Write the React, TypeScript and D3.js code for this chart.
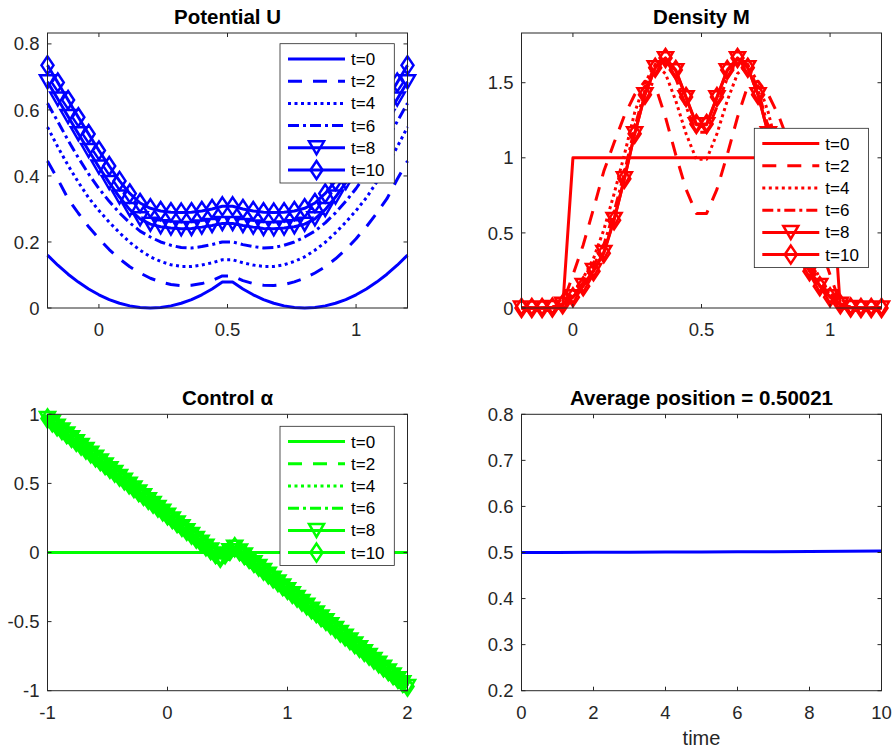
import React from 'react';
import * as d3 from 'd3';

// ---- data ----
const X_GRID = [-0.2, -0.16, -0.12, -0.08, -0.04, 0, 0.04, 0.08, 0.12, 0.16, 0.2, 0.24, 0.28, 0.32, 0.36, 0.4, 0.44, 0.48,
  0.52, 0.56, 0.6, 0.64, 0.68, 0.72, 0.76, 0.8, 0.84, 0.88, 0.92, 0.96, 1, 1.04, 1.08, 1.12, 1.16, 1.2];

const U_T0 = [0.16, 0.1296, 0.1024, 0.0784, 0.0576, 0.04, 0.0256, 0.0144, 0.0064, 0.0016, 0, 0.0016, 0.0064, 0.0144, 0.0256, 0.04, 0.0576, 0.0784,
  0.0784, 0.0576, 0.04, 0.0256, 0.0144, 0.0064, 0.0016, 0, 0.0016, 0.0064, 0.0144, 0.0256, 0.04, 0.0576, 0.0784, 0.1024, 0.1296, 0.16];
const U_T2 = [0.445, 0.39, 0.331, 0.287, 0.246, 0.21, 0.177, 0.149, 0.125, 0.106, 0.09, 0.079, 0.071, 0.068, 0.069, 0.074, 0.083, 0.097,
  0.097, 0.083, 0.074, 0.069, 0.068, 0.071, 0.079, 0.09, 0.106, 0.125, 0.149, 0.177, 0.21, 0.246, 0.287, 0.331, 0.39, 0.445];
const U_T4 = [0.548, 0.488, 0.432, 0.381, 0.334, 0.295, 0.26, 0.228, 0.199, 0.175, 0.155, 0.141, 0.131, 0.126, 0.126, 0.13, 0.137, 0.146,
  0.146, 0.137, 0.13, 0.126, 0.126, 0.131, 0.141, 0.155, 0.175, 0.199, 0.228, 0.26, 0.295, 0.334, 0.381, 0.432, 0.488, 0.548];
const U_T6 = [0.62, 0.565, 0.508, 0.455, 0.406, 0.362, 0.323, 0.288, 0.258, 0.233, 0.215, 0.2, 0.19, 0.183, 0.182, 0.186, 0.192, 0.2,
  0.2, 0.192, 0.186, 0.182, 0.183, 0.19, 0.2, 0.215, 0.233, 0.258, 0.288, 0.323, 0.362, 0.406, 0.455, 0.508, 0.565, 0.62];
const U_T8 = [0.685, 0.633, 0.58, 0.528, 0.477, 0.427, 0.38, 0.336, 0.298, 0.27, 0.254, 0.246, 0.242, 0.24, 0.241, 0.245, 0.25, 0.256,
  0.256, 0.25, 0.245, 0.241, 0.24, 0.242, 0.246, 0.254, 0.27, 0.298, 0.336, 0.38, 0.427, 0.477, 0.528, 0.58, 0.633, 0.685];
const U_T10 = [0.735, 0.683, 0.63, 0.578, 0.527, 0.477, 0.43, 0.385, 0.347, 0.318, 0.302, 0.294, 0.29, 0.289, 0.29, 0.294, 0.3, 0.308,
  0.308, 0.3, 0.294, 0.29, 0.289, 0.29, 0.294, 0.302, 0.318, 0.347, 0.385, 0.43, 0.477, 0.527, 0.578, 0.63, 0.683, 0.735];

const M_T0 = [0, 0, 0, 0, 0, 1, 1, 1, 1, 1, 1, 1, 1, 1, 1, 1, 1, 1,
  1, 1, 1, 1, 1, 1, 1, 1, 1, 1, 1, 1, 1, 0, 0, 0, 0, 0];
const M_T2 = [0, 0, 0, 0.005, 0.03, 0.22, 0.42, 0.66, 0.91, 1.1, 1.28, 1.42, 1.51, 1.48, 1.27, 1.02, 0.79, 0.63,
  0.63, 0.79, 1.02, 1.27, 1.48, 1.51, 1.42, 1.28, 1.1, 0.91, 0.66, 0.42, 0.22, 0.03, 0.005, 0, 0, 0];
const M_T4 = [0, 0, 0, 0.003, 0.02, 0.1, 0.2, 0.33, 0.52, 0.76, 1.02, 1.3, 1.5, 1.62, 1.56, 1.38, 1.16, 0.99,
  0.99, 1.16, 1.38, 1.56, 1.62, 1.5, 1.3, 1.02, 0.76, 0.52, 0.33, 0.2, 0.1, 0.02, 0.003, 0, 0, 0];
const M_T6 = [0, 0, 0, 0.004, 0.025, 0.085, 0.17, 0.28, 0.42, 0.64, 0.9, 1.2, 1.45, 1.62, 1.65, 1.53, 1.34, 1.17,
  1.17, 1.34, 1.53, 1.65, 1.62, 1.45, 1.2, 0.9, 0.64, 0.42, 0.28, 0.17, 0.085, 0.025, 0.004, 0, 0, 0];
const M_T8 = [0, 0, 0, 0.004, 0.025, 0.075, 0.15, 0.25, 0.37, 0.59, 0.86, 1.16, 1.42, 1.6, 1.66, 1.58, 1.4, 1.22,
  1.22, 1.4, 1.58, 1.66, 1.6, 1.42, 1.16, 0.86, 0.59, 0.37, 0.25, 0.15, 0.075, 0.025, 0.004, 0, 0, 0];
const M_T10 = [0, 0, 0, 0.004, 0.025, 0.072, 0.145, 0.245, 0.365, 0.585, 0.86, 1.16, 1.42, 1.6, 1.665, 1.585, 1.405, 1.225,
  1.225, 1.405, 1.585, 1.665, 1.6, 1.42, 1.16, 0.86, 0.585, 0.365, 0.245, 0.145, 0.072, 0.025, 0.004, 0, 0, 0];

const A_GRID = [-1, -0.96, -0.92, -0.88, -0.84, -0.8, -0.76, -0.72, -0.68, -0.64, -0.6, -0.56, -0.52, -0.48, -0.44, -0.4, -0.36, -0.32, -0.28,
  -0.24, -0.2, -0.16, -0.12, -0.08, -0.04, 0, 0.04, 0.08, 0.12, 0.16, 0.2, 0.24, 0.28, 0.32, 0.36, 0.4, 0.44, 0.48,
  0.52, 0.56, 0.6, 0.64, 0.68, 0.72, 0.76, 0.8, 0.84, 0.88, 0.92, 0.96, 1, 1.04, 1.08, 1.12, 1.16, 1.2, 1.24,
  1.28, 1.32, 1.36, 1.4, 1.44, 1.48, 1.52, 1.56, 1.6, 1.64, 1.68, 1.72, 1.76, 1.8, 1.84, 1.88, 1.92, 1.96, 2];
const A_T0 = [0, 0, 0, 0, 0, 0, 0, 0, 0, 0, 0, 0, 0, 0, 0, 0, 0, 0, 0,
  0, 0, 0, 0, 0, 0, 0, 0, 0, 0, 0, 0, 0, 0, 0, 0, 0, 0, 0,
  0, 0, 0, 0, 0, 0, 0, 0, 0, 0, 0, 0, 0, 0, 0, 0, 0, 0, 0,
  0, 0, 0, 0, 0, 0, 0, 0, 0, 0, 0, 0, 0, 0, 0, 0, 0, 0, 0];
// t=2..10 lie on top of each other
const A_LATE = [0.97, 0.942, 0.914, 0.886, 0.858, 0.83, 0.802, 0.774, 0.746, 0.718, 0.69, 0.662, 0.634, 0.606, 0.578, 0.55, 0.522, 0.494, 0.466,
  0.438, 0.41, 0.382, 0.354, 0.326, 0.298, 0.27, 0.242, 0.214, 0.186, 0.158, 0.13, 0.102, 0.074, 0.046, 0.018, -0.01, -0.038, -0.013,
  0.013, 0.038, 0.01, -0.018, -0.046, -0.074, -0.102, -0.13, -0.158, -0.186, -0.214, -0.242, -0.27, -0.298, -0.326, -0.354, -0.382, -0.41, -0.438,
  -0.466, -0.494, -0.522, -0.55, -0.578, -0.606, -0.634, -0.662, -0.69, -0.718, -0.746, -0.774, -0.802, -0.83, -0.858, -0.886, -0.914, -0.942, -0.97];

const TIME = [0, 1, 2, 3, 4, 5, 6, 7, 8, 9, 10];
const AVG_POS = [0.5, 0.5002, 0.5004, 0.5006, 0.5009, 0.5012, 0.5015, 0.5019, 0.5023, 0.5027, 0.5032];

const LEGEND_LABELS = ['t=0', 't=2', 't=4', 't=6', 't=8', 't=10'];
const LINE_KINDS = ['solid', 'dash', 'dot', 'dashdot', 'solid', 'solid'];
const MARKER_KINDS = ['', '', '', '', 'v', 'd'];

const U_X_TICKS = [0, 0.5, 1];
const U_X_LABELS = ['0', '0.5', '1'];
const U_Y_TICKS = [0, 0.2, 0.4, 0.6, 0.8];
const U_Y_LABELS = ['0', '0.2', '0.4', '0.6', '0.8'];
const M_Y_TICKS = [0, 0.5, 1, 1.5];
const M_Y_LABELS = ['0', '0.5', '1', '1.5'];
const A_X_TICKS = [-1, 0, 1, 2];
const A_X_LABELS = ['-1', '0', '1', '2'];
const A_Y_TICKS = [-1, -0.5, 0, 0.5, 1];
const A_Y_LABELS = ['-1', '-0.5', '0', '0.5', '1'];
const T_X_TICKS = [0, 2, 4, 6, 8, 10];
const T_X_LABELS = ['0', '2', '4', '6', '8', '10'];
const T_Y_TICKS = [0.2, 0.3, 0.4, 0.5, 0.6, 0.7, 0.8];
const T_Y_LABELS = ['0.2', '0.3', '0.4', '0.5', '0.6', '0.7', '0.8'];

const FONT = '"Liberation Sans", Arial, Helvetica, sans-serif';
const AX = '#262626';
const DASHES: Record<string, string | undefined> = {
  solid: undefined,
  dash: '14 11',
  dot: '3 3.5',
  dashdot: '11 4 3 4',
};

function markerD(kind: string, x: number, y: number) {
  if (kind === 'v') return `M${x - 7.5},${y - 6.5}L${x + 7.5},${y - 6.5}L${x},${y + 6.5}Z`;
  if (kind === 'd') return `M${x},${y - 9}L${x + 6},${y}L${x},${y + 9}L${x - 6},${y}Z`;
  return '';
}

type Series = { xs: number[]; ys: number[]; kind: string; marker: string };

function Panel(props: any) {
  const { box, xDomain, yDomain, xTicks, xLabels, yTicks, yLabels, title, xTitle, color, series, legend } = props;
  const x = d3.scaleLinear().domain(xDomain).range([box.left, box.left + box.width]);
  const y = d3.scaleLinear().domain(yDomain).range([box.top + box.height, box.top]);
  const line = d3.line<[number, number]>().x(d => x(d[0])).y(d => y(d[1]));
  const bottom = box.top + box.height;
  const right = box.left + box.width;
  const tick = 4;

  return (
    <g>
      {series.map((s: Series, i: number) => {
        const pts = d3.zip(s.xs, s.ys) as [number, number][];
        const md = s.marker ? pts.map(p => markerD(s.marker, x(p[0]), y(p[1]))).join('') : '';
        return (
          <g key={i}>
            <path d={line(pts) || ''} fill="none" stroke={color} strokeWidth={3}
              strokeDasharray={DASHES[s.kind]} strokeLinejoin="round" />
            {md && <path d={md} fill="none" stroke={color} strokeWidth={2.5} strokeLinejoin="miter" />}
          </g>
        );
      })}

      <rect x={box.left} y={box.top} width={box.width} height={box.height} fill="none" stroke={AX} strokeWidth={1} />
      {xTicks.map((t: number, i: number) => (
        <g key={'x' + i}>
          <line x1={x(t)} x2={x(t)} y1={bottom} y2={bottom - tick} stroke={AX} />
          <line x1={x(t)} x2={x(t)} y1={box.top} y2={box.top + tick} stroke={AX} />
          <text x={x(t)} y={bottom + 28} textAnchor="middle" fontSize={18.5} fill={AX}>{xLabels[i]}</text>
        </g>
      ))}
      {yTicks.map((t: number, i: number) => (
        <g key={'y' + i}>
          <line x1={box.left} x2={box.left + tick} y1={y(t)} y2={y(t)} stroke={AX} />
          <line x1={right} x2={right - tick} y1={y(t)} y2={y(t)} stroke={AX} />
          <text x={box.left - 8} y={y(t) + 6.6} textAnchor="end" fontSize={18.5} fill={AX}>{yLabels[i]}</text>
        </g>
      ))}
      <text x={box.left + box.width / 2} y={box.top - 9} textAnchor="middle" fontSize={20.5} fontWeight="bold" fill="#000">{title}</text>
      {xTitle && (
        <text x={box.left + box.width / 2} y={bottom + 54} textAnchor="middle" fontSize={20} fill={AX}>{xTitle}</text>
      )}

      {legend && (
        <g transform={`translate(${legend.x},${legend.y})`}>
          <rect x={0} y={0} width={114.3} height={139.3} fill="#fff" stroke={AX} strokeWidth={0.8} />
          {LEGEND_LABELS.map((lab, i) => {
            const ry = 15.3 + i * 22.2;
            return (
              <g key={lab}>
                <line x1={8} x2={65} y1={ry} y2={ry} stroke={color} strokeWidth={3}
                  strokeDasharray={DASHES[LINE_KINDS[i]]} />
                {MARKER_KINDS[i] && (
                  <path d={markerD(MARKER_KINDS[i], 36.5, ry)} fill="none" stroke={color} strokeWidth={2.5} />
                )}
                <text x={71} y={ry + 6} fontSize={17} fill="#000">{lab}</text>
              </g>
            );
          })}
        </g>
      )}
    </g>
  );
}

function makeSeries(xs: number[], lists: number[][]): Series[] {
  return lists.map((ys, i) => ({ xs, ys, kind: LINE_KINDS[i], marker: MARKER_KINDS[i] }));
}

export default function App() {
  const uSeries = makeSeries(X_GRID, [U_T0, U_T2, U_T4, U_T6, U_T8, U_T10]);
  const mSeries = makeSeries(X_GRID, [M_T0, M_T2, M_T4, M_T6, M_T8, M_T10]);
  const aSeries = makeSeries(A_GRID, [A_T0, A_LATE, A_LATE, A_LATE, A_LATE, A_LATE]);
  const pSeries: Series[] = [{ xs: TIME, ys: AVG_POS, kind: 'solid', marker: '' }];

  return (
    <svg width={894} height={752} style={{ position: 'absolute', left: 0, top: 0, background: '#fff' }}
      fontFamily={FONT}>
      <Panel box={{ left: 47.5, top: 33, width: 360, height: 275 }} xDomain={[-0.2, 1.2]} yDomain={[0, 0.833]}
        xTicks={U_X_TICKS} xLabels={U_X_LABELS} yTicks={U_Y_TICKS} yLabels={U_Y_LABELS}
        title="Potential U" color="#0000ff" series={uSeries} legend={{ x: 280, y: 43.7 }} />
      <Panel box={{ left: 521.5, top: 33, width: 360, height: 275 }} xDomain={[-0.2, 1.2]} yDomain={[0, 1.831]}
        xTicks={U_X_TICKS} xLabels={U_X_LABELS} yTicks={M_Y_TICKS} yLabels={M_Y_LABELS}
        title="Density M" color="#ff0000" series={mSeries} legend={{ x: 754.3, y: 128.3 }} />
      <Panel box={{ left: 47.5, top: 414.3, width: 360, height: 276.4 }} xDomain={[-1, 2]} yDomain={[-1, 1]}
        xTicks={A_X_TICKS} xLabels={A_X_LABELS} yTicks={A_Y_TICKS} yLabels={A_Y_LABELS}
        title="Control α" color="#00ff00" series={aSeries} legend={{ x: 280, y: 426.3 }} />
      <Panel box={{ left: 521.5, top: 414.3, width: 360, height: 276.4 }} xDomain={[0, 10]} yDomain={[0.2, 0.8]}
        xTicks={T_X_TICKS} xLabels={T_X_LABELS} yTicks={T_Y_TICKS} yLabels={T_Y_LABELS}
        title="Average position = 0.50021" xTitle="time" color="#0000ff" series={pSeries} />
    </svg>
  );
}
